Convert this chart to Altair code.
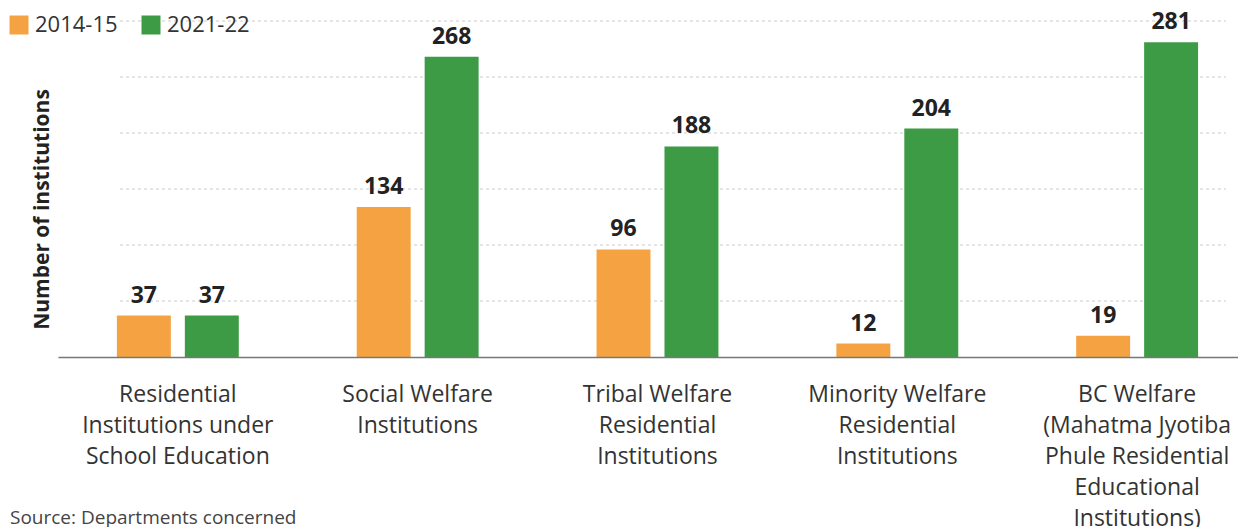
import altair as alt
import pandas as pd

categories = [
    "Residential|Institutions under|School Education",
    "Social Welfare|Institutions",
    "Tribal Welfare|Residential|Institutions",
    "Minority Welfare|Residential|Institutions",
    "BC Welfare|(Mahatma Jyotiba|Phule Residential|Educational|Institutions)",
]
periods = ["2014-15", "2021-22"]
values_2014_15 = [37, 134, 96, 12, 19]
values_2021_22 = [37, 268, 188, 204, 281]
grid_values = [50, 100, 150, 200, 250, 300]
colors = ["#F5A342", "#3D9A45"]

rows = []
for c, a, b in zip(categories, values_2014_15, values_2021_22):
    rows.append({"category": c, "period": periods[0], "value": a})
    rows.append({"category": c, "period": periods[1], "value": b})
df = pd.DataFrame(rows)
grid_df = pd.DataFrame({"v": grid_values})

FONT = "Open Sans"
W, H = 1180, 336

yscale = alt.Scale(domain=[0, 300], nice=False)
y_axis = alt.Axis(
    title="Number of institutions",
    labels=False,
    ticks=False,
    domain=False,
    grid=False,
    titleFont=FONT,
    titleFontSize=21,
    titleFontWeight="bold",
    titleColor="#222222",
    titleX=-16,
    titleY=188,
    titleAngle=270,
    titleAlign="center",
    titleBaseline="middle",
)

x_enc = alt.X(
    "category:N",
    sort=categories,
    scale=alt.Scale(paddingInner=0.4917, paddingOuter=0.206, align=0.596),
    axis=alt.Axis(
        title=None,
        labelExpr="split(datum.label, '|')",
        labelAngle=0,
        labelFont=FONT,
        labelFontSize=23,
        labelColor="#333333",
        labelLineHeight=31,
        labelPadding=26,
        labelBaseline="top",
        labelLimit=400,
        labelOverlap=False,
        ticks=False,
        domainColor="#777777",
        domainWidth=1.5,
        grid=False,
        zindex=1,
    ),
)
xoff = alt.XOffset("period:N", sort=periods, scale=alt.Scale(paddingInner=0.206, paddingOuter=0))

grid = alt.Chart(grid_df).mark_rule(
    color="#dddddd", strokeWidth=1.5, strokeDash=[3, 3]
).encode(
    y=alt.Y("v:Q", scale=yscale, axis=y_axis),
    x=alt.value(62),
    x2=alt.value(1168),
)

bars = alt.Chart(df).mark_bar().encode(
    x=x_enc,
    xOffset=xoff,
    y=alt.Y("value:Q", scale=yscale, axis=y_axis),
    color=alt.Color(
        "period:N",
        sort=periods,
        scale=alt.Scale(domain=periods, range=colors),
        legend=alt.Legend(
            title=None,
            orient="none",
            legendX=-50,
            legendY=-7,
            direction="horizontal",
            symbolType="square",
            symbolSize=361,
            symbolStrokeWidth=0,
            symbolOpacity=1,
            labelFont=FONT,
            labelFontSize=22,
            labelColor="#333333",
            labelOffset=5,
            columnPadding=22,
        ),
    ),
)

labels = alt.Chart(df).mark_text(
    font=FONT, fontSize=23, fontWeight="bold", color="#222222",
    baseline="alphabetic", dy=-13,
).encode(
    x=alt.X("category:N", sort=categories),
    xOffset=alt.XOffset("period:N", sort=periods),
    y=alt.Y("value:Q", scale=yscale),
    text="value:Q",
)

source = alt.Chart(pd.DataFrame({"t": ["Source: Departments concerned"]})).mark_text(
    font=FONT, fontSize=19, color="#444444", align="left", baseline="middle"
).encode(
    x=alt.value(-48),
    y=alt.value(497),
    text="t:N",
)

chart = alt.layer(grid, bars, labels, source).properties(
    width=W,
    height=H,
    autosize=alt.AutoSizeParams(type="none"),
    padding={"left": 50, "top": 13, "right": 0, "bottom": 170},
).configure_view(stroke=None)

chart.save("out.html", embed_options={"renderer": "svg", "actions": False})
